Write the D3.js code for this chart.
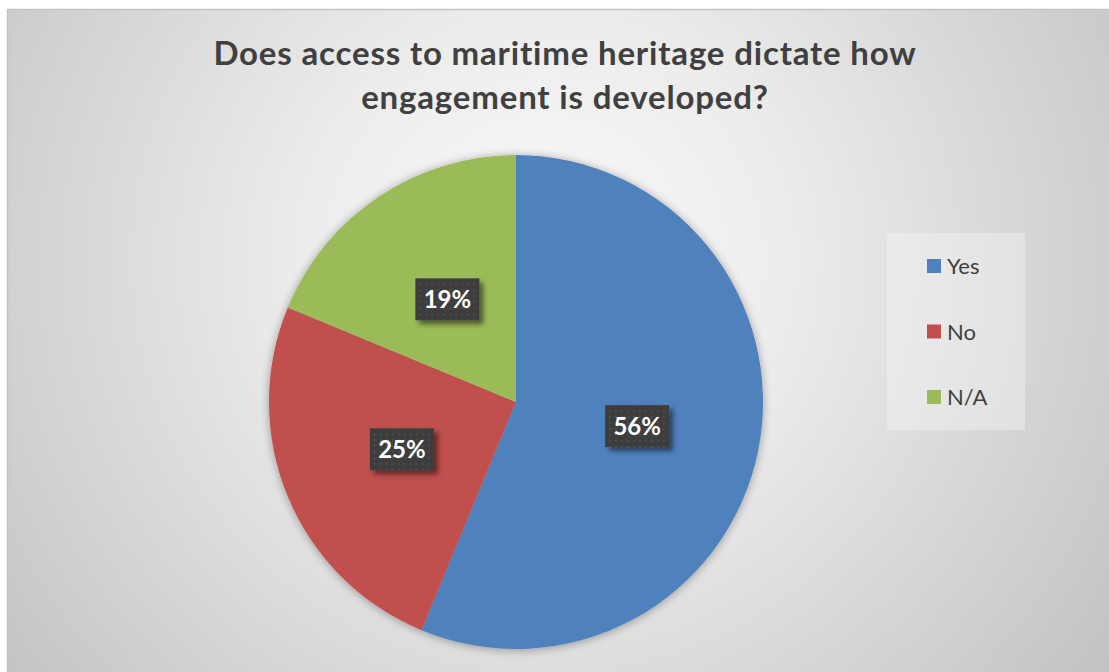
<!DOCTYPE html>
<html><head><meta charset="utf-8">
<script src="https://cdn.jsdelivr.net/npm/d3@7"></script>
<style>html,body{margin:0;padding:0;background:#fff;}svg{display:block;}</style>
</head><body>
<svg id="chart" width="1109" height="672"></svg>
<script>
const titleLines = ["Does access to maritime heritage dictate how", "engagement is developed?"];
const categories = ["Yes", "No", "N/A"];
const counts = [9, 4, 3];
const percentLabels = ["56%", "25%", "19%"];
const colors = ["#4f81bd", "#c0504d", "#9bbb59"];

const W = 1109, H = 672;
const FONT = "Lato, 'Open Sans', sans-serif";
const svg = d3.select("#chart");
const defs = svg.append("defs");

const bg = defs.append("radialGradient").attr("id", "bg")
  .attr("gradientUnits", "userSpaceOnUse").attr("cx", 545).attr("cy", 260).attr("r", 700);
bg.append("stop").attr("offset", 0).attr("stop-color", "#fafafa");
bg.append("stop").attr("offset", 0.35).attr("stop-color", "#ececec");
bg.append("stop").attr("offset", 1).attr("stop-color", "#c2c2c2");

const sh = defs.append("filter").attr("id", "pieShadow").attr("x", "-20%").attr("y", "-20%").attr("width", "140%").attr("height", "140%");
sh.append("feGaussianBlur").attr("in", "SourceAlpha").attr("stdDeviation", 5).attr("result", "b");
sh.append("feOffset").attr("in", "b").attr("dx", 0).attr("dy", 1).attr("result", "o");
sh.append("feComponentTransfer").attr("in", "o").attr("result", "o2")
  .append("feFuncA").attr("type", "linear").attr("slope", 0.35);
const m1 = sh.append("feMerge");
m1.append("feMergeNode").attr("in", "o2");
m1.append("feMergeNode").attr("in", "SourceGraphic");

const lsh = defs.append("filter").attr("id", "lblShadow").attr("x", "-30%").attr("y", "-30%").attr("width", "160%").attr("height", "160%");
lsh.append("feGaussianBlur").attr("in", "SourceAlpha").attr("stdDeviation", 2.5).attr("result", "b");
lsh.append("feOffset").attr("in", "b").attr("dx", 4).attr("dy", 4).attr("result", "o");
lsh.append("feComponentTransfer").attr("in", "o").attr("result", "o2")
  .append("feFuncA").attr("type", "linear").attr("slope", 0.5);
const m2 = lsh.append("feMerge");
m2.append("feMergeNode").attr("in", "o2");
m2.append("feMergeNode").attr("in", "SourceGraphic");

const pat = defs.append("pattern").attr("id", "dots").attr("patternUnits", "userSpaceOnUse")
  .attr("width", 6).attr("height", 6);
pat.append("rect").attr("width", 6).attr("height", 6).attr("fill", "#3e3e3e");
pat.append("rect").attr("x", 2).attr("y", 2).attr("width", 1.5).attr("height", 1.5).attr("fill", "#555555");

// chart area
svg.append("rect").attr("x", 7.5).attr("y", 9.5).attr("width", W).attr("height", H)
  .attr("fill", "url(#bg)").attr("stroke", "#c4c4c4").attr("stroke-width", 1.5);

// title
const title = svg.append("text").attr("text-anchor", "middle")
  .attr("font-family", FONT).attr("font-weight", 700)
  .attr("font-size", 33).attr("fill", "#404040");
const tsp = title.selectAll("tspan").data(titleLines).join("tspan")
  .attr("x", 565).attr("y", (d, i) => 65 + i * 44).text(d => d);
const firstLen = tsp.node().getComputedTextLength();
const ls = Math.max(0, (703 - firstLen) / (titleLines[0].length - 1));
title.attr("letter-spacing", ls);

// pie
const cx = 516, cy = 402, R = 247;
const pie = d3.pie().sort(null).value(d => d)(counts);
const arc = d3.arc().innerRadius(0).outerRadius(R);
const g = svg.append("g").attr("transform", `translate(${cx},${cy})`);
g.append("g").attr("filter", "url(#pieShadow)")
  .selectAll("path").data(pie).join("path")
  .attr("d", arc).attr("fill", (d, i) => colors[i]);

// data labels
const bw = 64, bh = 42;
const lbl = g.selectAll("g.lbl").data(pie).join("g").attr("class", "lbl")
  .attr("transform", d => { const c = arc.centroid(d); return `translate(${c[0]},${c[1]})`; });
lbl.append("rect").attr("x", -bw / 2).attr("y", -bh / 2).attr("width", bw).attr("height", bh)
  .attr("fill", "url(#dots)").attr("filter", "url(#lblShadow)");
lbl.append("text").attr("text-anchor", "middle").attr("y", 8.5)
  .attr("font-family", FONT).attr("font-weight", 700)
  .attr("font-size", 24).attr("fill", "#ffffff")
  .text((d, i) => percentLabels[i]);

// legend
const leg = svg.append("g");
leg.append("rect").attr("x", 887).attr("y", 233).attr("width", 138).attr("height", 197)
  .attr("fill", "#ffffff").attr("fill-opacity", 0.3);
const ly = d3.scalePoint().domain(categories).range([266, 397]);
const li = leg.selectAll("g.item").data(categories).join("g").attr("class", "item")
  .attr("transform", d => `translate(927,${ly(d)})`);
li.append("rect").attr("x", 0).attr("y", -7).attr("width", 14).attr("height", 14)
  .attr("fill", (d, i) => colors[i]);
li.append("text").attr("x", 20).attr("y", 8)
  .attr("font-family", FONT).attr("font-size", 22).attr("fill", "#404040")
  .text(d => d);
</script>
</body></html>
